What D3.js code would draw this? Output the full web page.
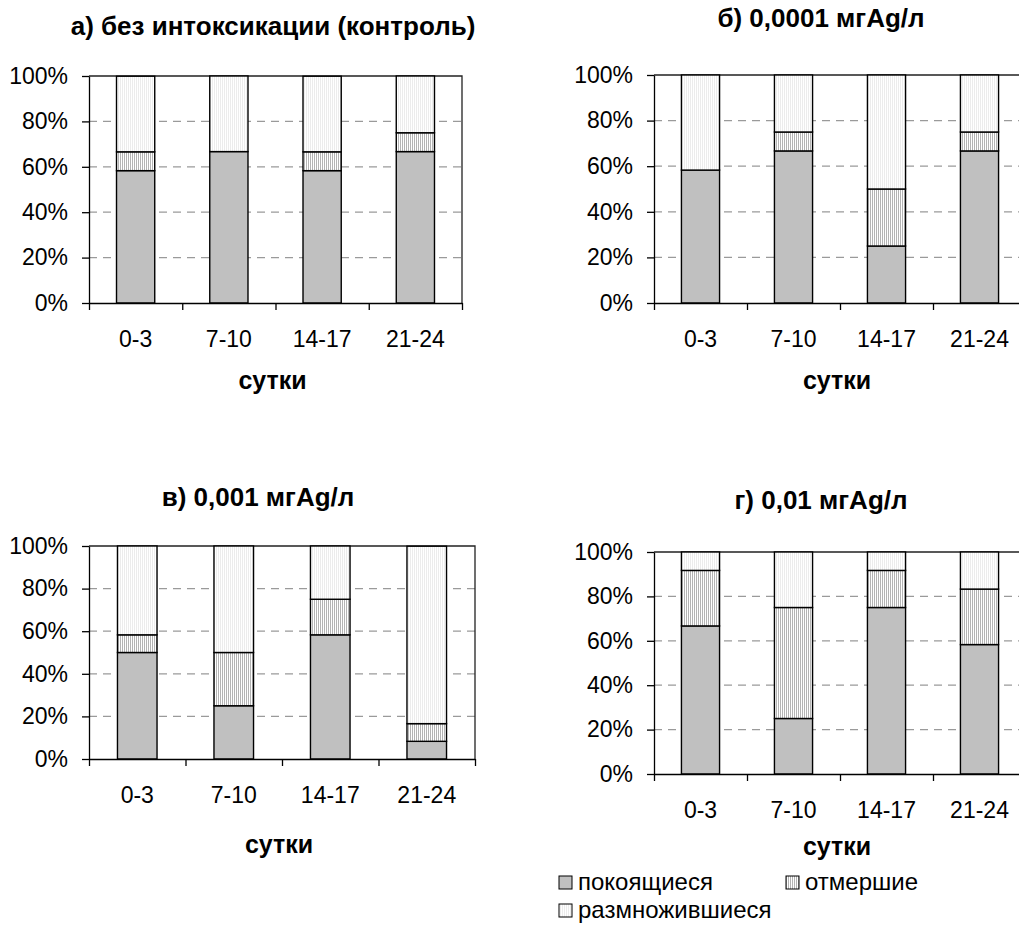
<!DOCTYPE html>
<html>
<head>
<meta charset="utf-8">
<script src="https://cdn.jsdelivr.net/npm/d3@7"></script>
<style>
  body { margin: 0; background: #fff; }
  svg text { font-family: "Liberation Sans", Arial, sans-serif; fill: #000; }
</style>
</head>
<body>
<svg id="chart" width="1019" height="928"></svg>
<script>
// categories and series
const categories = ["0-3", "7-10", "14-17", "21-24"];
const seriesNames = ["покоящиеся", "отмершие", "размножившиеся"];
const yTicks = [0, 20, 40, 60, 80, 100];

// а) control
const restA = [58.3, 66.7, 58.3, 66.7];
const deadA = [8.3, 0, 8.3, 8.3];
const multA = [33.3, 33.3, 33.3, 25];
// б) 0,0001
const restB = [58.3, 66.7, 25, 66.7];
const deadB = [0, 8.3, 25, 8.3];
const multB = [41.7, 25, 50, 25];
// в) 0,001
const restV = [50, 25, 58.3, 8.3];
const deadV = [8.3, 25, 16.7, 8.3];
const multV = [41.7, 50, 25, 83.3];
// г) 0,01
const restG = [66.7, 25, 75, 58.3];
const deadG = [25, 50, 16.7, 25];
const multG = [8.3, 25, 8.3, 16.7];

const titles = ["а) без интоксикации (контроль)", "б) 0,0001 мгAg/л", "в) 0,001 мгAg/л", "г) 0,01 мгAg/л"];

// layout of the four panels
const panels = [
  { rest: restA, dead: deadA, mult: multA, title: titles[0], left: 89, right: 462, top: 76, bottom: 303, titleX: 273, titleY: 35, axisTitleY: 389 },
  { rest: restB, dead: deadB, mult: multB, title: titles[1], left: 654, right: 1026, top: 75, bottom: 303, titleX: 821, titleY: 27, axisTitleY: 389 },
  { rest: restV, dead: deadV, mult: multV, title: titles[2], left: 89, right: 475, top: 546, bottom: 759, titleX: 258, titleY: 506, axisTitleY: 853 },
  { rest: restG, dead: deadG, mult: multG, title: titles[3], left: 654, right: 1026, top: 552, bottom: 774, titleX: 821, titleY: 509, axisTitleY: 855 }
];

const svg = d3.select("#chart");
const defs = svg.append("defs");

// vertical-stripe fills like the excel patterns
function stripes(id, color) {
  const p = defs.append("pattern").attr("id", id)
    .attr("patternUnits", "userSpaceOnUse").attr("width", 2).attr("height", 4);
  p.append("rect").attr("width", 2).attr("height", 4).attr("fill", "#fff");
  p.append("rect").attr("x", 0).attr("width", 1).attr("height", 4).attr("fill", color);
}
stripes("pat-dead", "#b4b4b4");
stripes("pat-mult", "#ececec");

const fills = ["#c0c0c0", "url(#pat-dead)", "url(#pat-mult)"];

panels.forEach(function(p) {
  const g = svg.append("g");

  const rows = categories.map((c, i) => ({ cat: c, rest: p.rest[i], dead: p.dead[i], mult: p.mult[i] }));
  const stack = d3.stack().keys(["rest", "dead", "mult"])(rows);

  const x = d3.scaleBand().domain(categories).range([p.left, p.right])
    .paddingInner(0.59).paddingOuter(0.295);
  const xEdge = d3.scaleLinear().domain([0, categories.length]).range([p.left, p.right]);
  const y = d3.scaleLinear().domain([0, 100]).range([p.bottom, p.top]);

  // dashed gridlines
  g.selectAll(".grid").data(yTicks.filter(t => t > 0 && t < 100)).join("line")
    .attr("class", "grid")
    .attr("x1", p.left).attr("x2", p.right)
    .attr("y1", d => y(d)).attr("y2", d => y(d))
    .attr("stroke", "#9a9a9a").attr("stroke-width", 1.2)
    .attr("stroke-dasharray", "8,6");

  // plot area frame (top + right)
  g.append("path")
    .attr("d", `M${p.left},${y(100)}H${p.right}V${y(0)}`)
    .attr("fill", "none").attr("stroke", "#222").attr("stroke-width", 1.3);

  // stacked bars
  stack.forEach(function(layer, k) {
    g.selectAll(".s" + k).data(layer).join("rect")
      .attr("class", "s" + k)
      .attr("x", d => x(d.data.cat))
      .attr("width", x.bandwidth())
      .attr("y", d => y(d[1]))
      .attr("height", d => y(d[0]) - y(d[1]))
      .attr("fill", fills[k])
      .attr("stroke", "#000").attr("stroke-width", 1.4);
  });

  // y axis
  const yAxis = g.append("g").attr("transform", `translate(${p.left},0)`)
    .call(d3.axisLeft(y).tickValues(yTicks).tickFormat(d => d + "%").tickSize(7).tickSizeOuter(0).tickPadding(14));
  yAxis.selectAll("text").style("font-size", "23px");
  yAxis.selectAll("line, path").attr("stroke", "#000").attr("stroke-width", 1.3);

  // x axis: tick marks at category edges, labels in the middle
  const xTicks = g.append("g").attr("transform", `translate(0,${p.bottom})`)
    .call(d3.axisBottom(xEdge).tickValues(d3.range(categories.length + 1)).tickFormat("").tickSize(7).tickSizeOuter(0));
  xTicks.selectAll("line, path").attr("stroke", "#000").attr("stroke-width", 1.3);

  const xLabels = g.append("g").attr("transform", `translate(0,${p.bottom})`)
    .call(d3.axisBottom(x).tickSize(0).tickPadding(28));
  xLabels.select(".domain").remove();
  xLabels.selectAll("text").style("font-size", "23px");

  // titles
  g.append("text").attr("x", p.titleX).attr("y", p.titleY)
    .attr("text-anchor", "middle").style("font-size", "26px").style("font-weight", "bold")
    .text(p.title);
  g.append("text").attr("x", (p.left + p.right) / 2 - 3).attr("y", p.axisTitleY)
    .attr("text-anchor", "middle").style("font-size", "25px").style("font-weight", "bold")
    .text("сутки");
});

// legend under the last panel
const legendPos = [[559, 890], [786, 890], [559, 918]];
const legend = svg.append("g");
seriesNames.forEach(function(name, i) {
  const [lx, ly] = legendPos[i];
  legend.append("rect").attr("x", lx).attr("y", ly - 14).attr("width", 13).attr("height", 13)
    .attr("fill", fills[i]).attr("stroke", "#000").attr("stroke-width", 1);
  legend.append("text").attr("x", lx + 19).attr("y", ly)
    .style("font-size", "24px").text(name);
});
</script>
</body>
</html>
